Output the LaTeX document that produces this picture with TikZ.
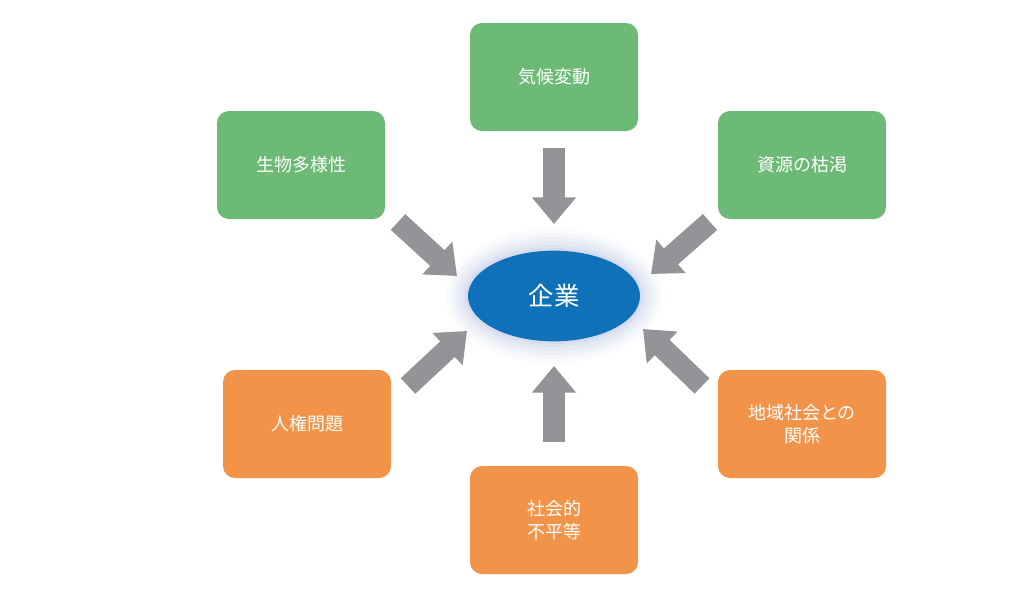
\documentclass[tikz,border=0pt]{standalone}
\usepackage{fontspec}
\setmainfont{Noto Sans CJK JP}
\usetikzlibrary{arrows.meta,shapes.geometric}
\definecolor{gbox}{HTML}{6DB976}
\definecolor{obox}{HTML}{F1944A}
\definecolor{bcore}{HTML}{0F72B9}
\definecolor{garr}{HTML}{929497}
\tikzset{
  box/.style={rounded corners=9pt, minimum width=126pt, minimum height=81pt, text=white, font=\fontsize{13.5}{17}\selectfont, align=center, inner sep=0pt},
  gb/.style={box, fill=gbox},
  ob/.style={box, fill=obox},
  barrow/.style={draw=garr, line width=16pt, -{Triangle[width=32pt,length=20pt]}}
}
\begin{document}
\begin{tikzpicture}[x=0.75pt,y=-0.75pt]
\useasboundingbox (0,0) rectangle (1030,593);
\fill[white] (0,0) rectangle (1030,593);
\node[gb] (cl) at (554,77) {気候変動};
\node[gb] (bd) at (301,165) {生物多様性};
\node[gb] (rs) at (802,165) {資源の枯渇};
\node[ob] (hr) at (307,424) {人権問題};
\node[ob] (cm) at (802,424) {地域社会との\\関係};
\node[ob] (si) at (554,520) {社会的\\不平等};
\foreach \r/\o in {22/0.05,18/0.08,14/0.1,10/0.12,6/0.15,3/0.2}
  \fill[cyan!40!blue!30, opacity=\o] (554,296) ellipse ({86+\r} and {45+\r});
\node[ellipse, fill=bcore, minimum width=129pt, minimum height=68pt, text=white, font=\fontsize{19}{22}\selectfont, inner sep=0pt] (core) at (554,296) {企業};
\coordinate (a1) at (554,148); \coordinate (b1) at (554,224);
\coordinate (a2) at (554,442); \coordinate (b2) at (554,366);
\coordinate (a3) at (398,222); \coordinate (b3) at (457,276);
\coordinate (a4) at (710,222); \coordinate (b4) at (651,274);
\coordinate (a5) at (408,386); \coordinate (b5) at (467,331);
\coordinate (a6) at (702,386); \coordinate (b6) at (643,329);
\foreach \i in {1,...,6} \draw[barrow] (a\i) -- (b\i);
\end{tikzpicture}
\end{document}
